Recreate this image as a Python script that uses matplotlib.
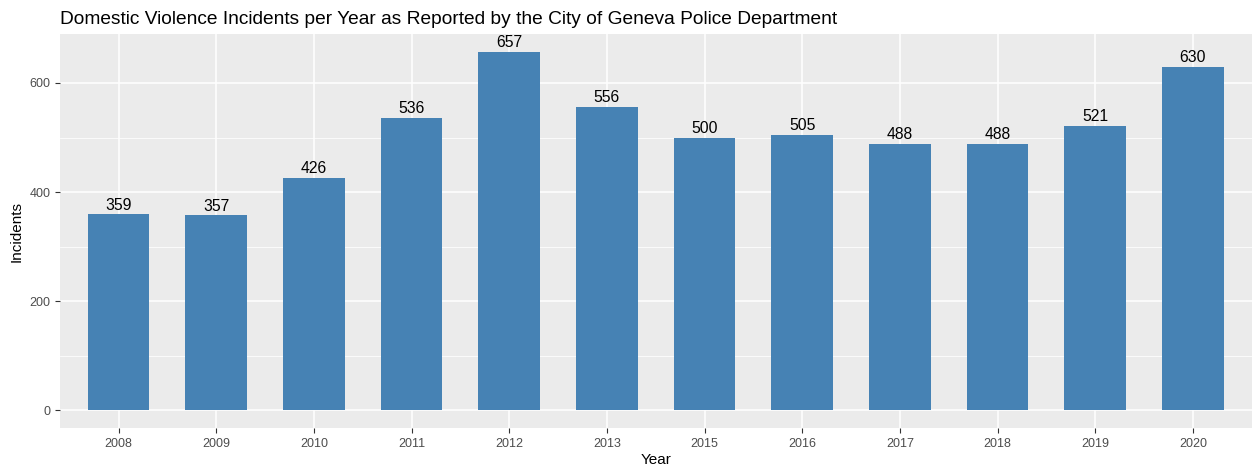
import numpy as np
import matplotlib.pyplot as plt

years = ["2008", "2009", "2010", "2011", "2012", "2013", "2015", "2016", "2017", "2018", "2019", "2020"]
incidents = [359, 357, 426, 536, 657, 556, 500, 505, 488, 488, 521, 630]

plt.rcParams['font.family'] = ['Liberation Sans', 'DejaVu Sans']

fig = plt.figure(figsize=(12.57, 4.68), dpi=100)
ax = fig.add_axes([60/1257, 1 - 428/468, (1251.5-60)/1257, (428-34)/468])

x = np.arange(1, len(years) + 1)
ax.set_facecolor("#EBEBEB")
ax.bar(x, incidents, width=0.63, color="#4682B4", zorder=3)
for xi, v in zip(x, incidents):
    ax.text(xi, v + 3, str(v), ha="center", va="bottom", fontsize=11.3, color="black", zorder=4)

ax.set_xlim(0.4, len(years) + 0.6)
ymax = max(incidents) * 1.05
ax.set_ylim(-0.05 * max(incidents), ymax)
ax.set_xticks(x)
ax.set_xticklabels(years)
ax.set_yticks([0, 200, 400, 600])
ax.set_yticks([100, 300, 500], minor=True)
ax.grid(which="major", color="white", linewidth=1.1, zorder=0)
ax.grid(which="minor", axis="y", color="white", linewidth=0.55, zorder=0)
ax.tick_params(which="major", length=3.5, color="#333333", labelsize=9, labelcolor="#4D4D4D")
ax.tick_params(which="minor", length=0)
for s in ax.spines.values():
    s.set_visible(False)
ax.set_xlabel("Year", fontsize=11, labelpad=2)
ax.set_ylabel("Incidents", fontsize=11, labelpad=4)
ax.set_title("Domestic Violence Incidents per Year as Reported by the City of Geneva Police Department",
             loc="left", fontsize=13.75, pad=7)

fig.savefig("out.png", dpi=100)
